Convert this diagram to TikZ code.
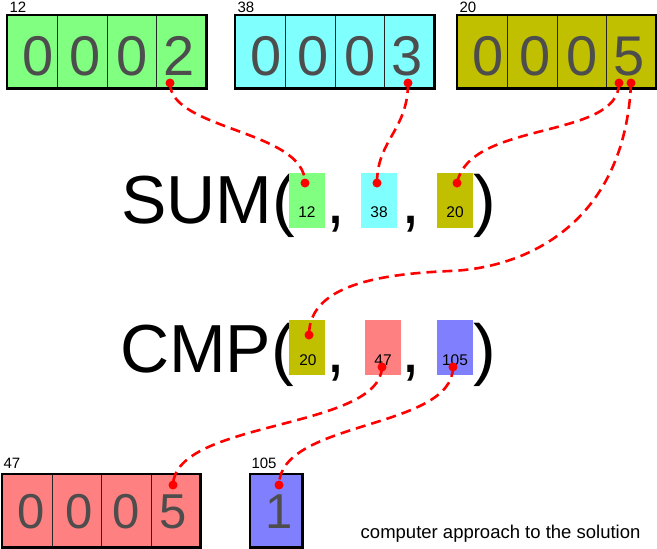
\documentclass[tikz,border=0pt]{standalone}
\usepackage{fontspec}
\setmainfont{Liberation Sans}
\usetikzlibrary{positioning}
\definecolor{cgreen}{RGB}{128,255,128}
\definecolor{ccyan}{RGB}{128,255,255}
\definecolor{colive}{RGB}{192,192,0}
\definecolor{cred}{RGB}{255,128,128}
\definecolor{cblue}{RGB}{128,128,255}
\definecolor{digitgray}{RGB}{77,77,77}
\begin{document}
\begin{tikzpicture}[x=1pt,y=-1pt,
  cell/.style={draw=black!85,line width=0.7pt,minimum width=49.75pt,minimum height=73pt,
    inner sep=0pt,anchor=north west},
  digit/.style={font=\fontsize{56}{56}\selectfont,text=digitgray,anchor=base},
  lowdigit/.style={font=\fontsize{49}{49}\selectfont,text=digitgray,anchor=base},
  frame/.style={draw=black,line width=2.5pt},
  slot/.style={minimum width=36pt,minimum height=55pt,inner sep=0pt},
  tag/.style={font=\fontsize{15.5}{15.5}\selectfont,anchor=base},
  addr/.style={font=\fontsize{15}{15}\selectfont,anchor=base west},
  big/.style={font=\fontsize{68}{68}\selectfont,anchor=base west,inner sep=0pt},
  dot/.style={circle,fill=red,inner sep=0pt,minimum size=9pt},
  link/.style={red,line width=2.6pt,dash pattern=on 10pt off 6pt}
]
  \useasboundingbox (0,0) rectangle (657,549);

  % memory cells at the top
  \foreach \reg/\col/\lx/\last/\where in {g/cgreen/7/2/12,c/ccyan/235/3/38,o/colive/457/5/20}{
    \foreach \i in {0,...,3}
      \node[cell,fill=\col] (\reg\i) at (\lx+\i*49.75,15) {};
    \draw[frame] (\reg0.north west) rectangle (\reg3.south east);
    \node[addr] (\reg-addr) at (\lx-1,12) {\where};
    \foreach \i/\dig in {0/0,1/0,2/0,3/\last}
      \node[digit] (\reg-d\i) at (\lx+31.5+\i*46.8,75) {\dig};
  }

  % SUM( , , )
  \node[big] (sum) at (121,223) {SUM(};
  \node[slot,fill=cgreen] (s1) at (307,200.5) {};
  \node[slot,fill=ccyan] (s2) at (379,200.5) {};
  \node[slot,fill=colive] (s3) at (455,200.5) {};
  \node[tag] (s1t) at (307,217) {12};
  \node[tag] (s2t) at (379,217) {38};
  \node[tag] (s3t) at (455,217) {20};
  \node[big] (sc1) at (326,223) {,};
  \node[big] (sc2) at (401,223) {,};
  \node[big] (sclose) at (473,223) {)};

  % CMP( , , )
  \node[big] (cmp) at (120,372) {CMP(};
  \node[slot,fill=colive] (m1) at (307,347.5) {};
  \node[slot,fill=cred] (m2) at (383,347.5) {};
  \node[slot,fill=cblue] (m3) at (455,347.5) {};
  \node[tag] (m1t) at (308,365) {20};
  \node[tag] (m2t) at (383,365) {47};
  \node[tag] (m3t) at (455,365) {105};
  \node[big] (mc1) at (326,372) {,};
  \node[big] (mc2) at (401,372) {,};
  \node[big] (mclose) at (473,372) {)};

  % result cells at the bottom
  \foreach \i in {0,...,3}
    \node[cell,fill=cred,minimum width=49.5pt] (r\i) at (2+\i*49.5,474) {};
  \draw[frame] (r0.north west) rectangle (r3.south east);
  \node[addr] (r-addr) at (0,468) {47};
  \foreach \i/\dig in {0/0,1/0,2/0,3/5}
    \node[lowdigit] (r-d\i) at (31.5+\i*47.2,528) {\dig};

  \node[cell,fill=cblue,minimum width=52pt] (b0) at (250,474) {};
  \draw[frame] (b0.north west) rectangle (b0.south east);
  \node[addr] (b-addr) at (248,468) {105};
  \node[lowdigit] (b-d0) at (279,528) {1};

  \node[anchor=base east,font=\fontsize{18.5}{18.5}\selectfont] (note) at (644,538)
    {computer approach to the solution};

  % pointers
  \node[dot] (gp) at (170,83) {};
  \node[dot] (cp) at (408,83) {};
  \node[dot] (op1) at (619,83) {};
  \node[dot] (op2) at (631,83) {};
  \node[dot] (s1p) at (305,183) {};
  \node[dot] (s2p) at (377,183) {};
  \node[dot] (s3p) at (457,183) {};
  \node[dot] (m1p) at (309,335) {};
  \node[dot] (m2p) at (382,367) {};
  \node[dot] (m3p) at (453,367) {};
  \node[dot] (rp) at (173,485) {};
  \node[dot] (bp) at (279,485) {};
  \coordinate (sweep) at (450,271);

  \draw[link] (gp.center) .. controls +(0,47) and +(0,-53) .. (s1p.center);
  \draw[link] (cp.center) .. controls +(0,47) and +(0,-43) .. (s2p.center);
  \draw[link] (op1.center) .. controls +(0,57) and +(13,-63) .. (s3p.center);
  \draw[link] (op2.center) .. controls +(-6,137) and +(80,-3) .. (sweep)
    .. controls +(-70,3) and +(0,-50) .. (m1p.center);
  \draw[link] (m2p.center) .. controls +(-2,63) and +(2,-65) .. (rp.center);
  \draw[link] (m3p.center) .. controls +(0,63) and +(1,-65) .. (bp.center);
\end{tikzpicture}
\end{document}
